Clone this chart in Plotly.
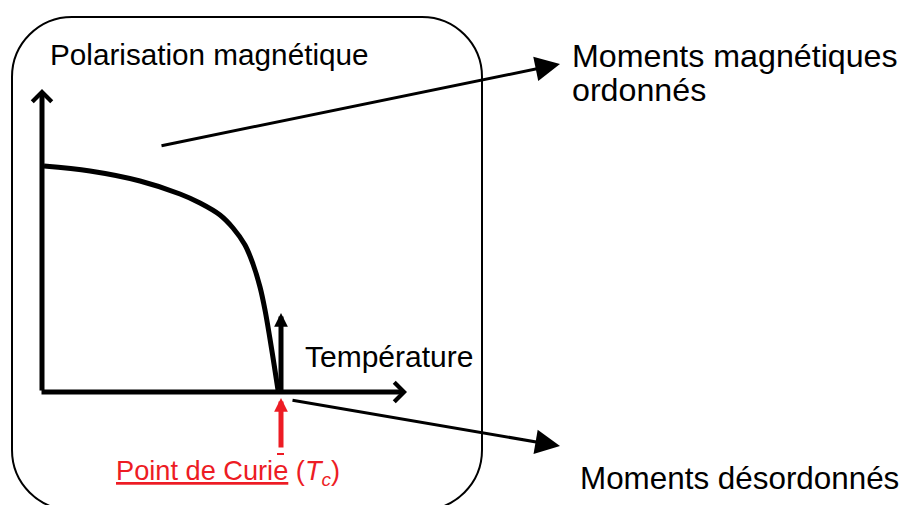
import plotly.graph_objects as go

# ---- data (schematic, in drawing units: x to the right, y downward) ----
curve_T = [44, 90, 140, 180, 200, 220, 233, 245, 253, 260, 265, 270, 274, 278]
curve_P = [166, 171, 181, 194, 203, 215, 228, 245, 264, 287, 310, 339, 364, 390]

origin = (42, 392)
y_axis_tip = (42, 89)
x_axis_tip = (407, 392)
tc_x = 281

labels = {
    "ylabel": "Polarisation magnétique",
    "xlabel": "Température",
    "ordered1": "Moments magnétiques",
    "ordered2": "ordonnés",
    "disordered": "Moments désordonnés",
    "curie": "<u>Point de Curie</u> (<i>T<sub>c</sub></i>)",
}

RED = "#ED1C24"
FONT = "Liberation Sans, Arial, sans-serif"
PAGE_OFFSET = 8  # default body margin of the html page

fig = go.Figure()

fig.add_trace(go.Scatter(
    x=curve_T, y=curve_P, mode="lines",
    line=dict(color="black", width=5, shape="spline", smoothing=1.0),
    hoverinfo="skip", showlegend=False,
))

# rounded frame
R = 60
x0, x1, y0, y1 = 12, 482, 17, 510
k = 0.5523 * R
path = (f"M {x0+R},{y0} L {x1-R},{y0} C {x1-R+k},{y0} {x1},{y0+R-k} {x1},{y0+R} "
        f"L {x1},{y1-R} C {x1},{y1-R+k} {x1-R+k},{y1} {x1-R},{y1} "
        f"L {x0+R},{y1} C {x0+R-k},{y1} {x0},{y1-R+k} {x0},{y1-R} "
        f"L {x0},{y0+R} C {x0},{y0+R-k} {x0+R-k},{y0} {x0+R},{y0} Z")
shapes = [
    dict(type="path", path=path, xref="x", yref="y",
         line=dict(color="black", width=2), fillcolor="rgba(0,0,0,0)"),
    dict(type="line", xref="x", yref="y", x0=tc_x - 4, x1=tc_x + 3, y0=454, y1=454,
         line=dict(color=RED, width=2)),
]

def arrow(tail, tip, width, head, size, color="black"):
    return dict(x=tip[0], y=tip[1], ax=tail[0], ay=tail[1],
                xref="x", yref="y", axref="x", ayref="y",
                text="", showarrow=True, arrowhead=head, arrowsize=size,
                arrowwidth=width, arrowcolor=color, standoff=0, startstandoff=0)

annotations = [
    arrow(origin, y_axis_tip, 5, 4, 0.75),
    arrow((origin[0] - 2, origin[1]), x_axis_tip, 5, 4, 0.75),
    arrow((tc_x, 392), (tc_x, 313), 5, 2, 0.55),
    arrow((tc_x, 449), (tc_x, 398), 5, 2, 0.55, RED),
    arrow((160, 146), (560, 64), 3, 2, 1.65),
    arrow((291, 400), (560, 446), 3, 2, 1.65),
]

def label(text, x, y, size, color="black"):
    return dict(x=x, y=y, xref="x", yref="y", text=text, showarrow=False,
                xanchor="left", yanchor="middle",
                font=dict(family=FONT, size=size, color=color))

annotations += [
    label(labels["ylabel"], 48, 54, 29.7),
    label(labels["xlabel"], 303, 356, 30),
    label(labels["ordered1"], 570, 56, 32.2),
    label(labels["ordered2"], 570, 90, 32.2),
    label(labels["disordered"], 578, 478, 31.4),
    label(labels["curie"], 114, 472, 27.2, RED),
]

fig.update_layout(
    width=907, height=505,
    margin=dict(l=0, r=0, t=0, b=0),
    paper_bgcolor="white", plot_bgcolor="white",
    xaxis=dict(range=[PAGE_OFFSET, 907 + PAGE_OFFSET], visible=False, fixedrange=True),
    yaxis=dict(range=[505 + PAGE_OFFSET, PAGE_OFFSET], visible=False, fixedrange=True),
    shapes=shapes, annotations=annotations, showlegend=False,
)

fig.write_html("out.html")
